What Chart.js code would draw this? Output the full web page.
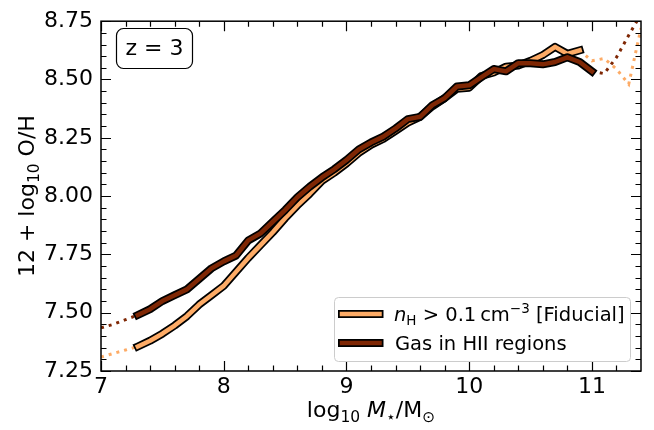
<!DOCTYPE html>
<html><head><meta charset="utf-8">
<script src="https://cdn.jsdelivr.net/npm/chart.js@4.4.1/dist/chart.umd.min.js"></script>
<style>html,body{margin:0;padding:0;background:#fff;}</style>
</head><body>
<canvas id="c" width="654" height="430"></canvas>
<script>
// ---- data ----
const fidX = [7.3,7.4,7.5,7.6,7.7,7.8,7.9,8.0,8.1,8.2,8.3,8.4,8.5,8.6,8.7,8.8,8.9,9.0,9.1,9.2,9.3,9.4,9.5,9.6,9.7,9.8,9.9,10.0,10.1,10.2,10.3,10.4,10.5,10.6,10.7,10.8,10.9];
const fidY = [7.355,7.38,7.41,7.445,7.485,7.535,7.575,7.615,7.675,7.735,7.79,7.845,7.905,7.96,8.01,8.065,8.10,8.14,8.185,8.22,8.245,8.28,8.315,8.34,8.385,8.42,8.46,8.465,8.515,8.53,8.555,8.56,8.58,8.605,8.64,8.61,8.625];
const hiiX = [7.3,7.4,7.5,7.6,7.7,7.8,7.9,8.0,8.1,8.2,8.3,8.4,8.5,8.6,8.7,8.8,8.9,9.0,9.1,9.2,9.3,9.4,9.5,9.6,9.7,9.8,9.9,10.0,10.1,10.2,10.3,10.4,10.5,10.6,10.7,10.8,10.9,11.0];
const hiiY = [7.49,7.515,7.55,7.575,7.60,7.645,7.69,7.72,7.745,7.81,7.84,7.89,7.94,7.995,8.04,8.08,8.115,8.155,8.20,8.23,8.255,8.29,8.33,8.34,8.39,8.42,8.47,8.475,8.51,8.545,8.535,8.57,8.57,8.565,8.575,8.595,8.575,8.535];
const fidLowX = [7.0,7.1,7.2,7.3];
const fidLowY = [7.31,7.325,7.34,7.355];
const fidHighX = [10.9,11.0,11.1,11.2,11.3,11.4];
const fidHighY = [8.625,8.58,8.59,8.545,8.48,8.72];
const hiiLowX = [7.0,7.1,7.2,7.3];
const hiiLowY = [7.435,7.45,7.47,7.49];
const hiiHighX = [11.0,11.1,11.2,11.3,11.4];
const hiiHighY = [8.535,8.525,8.595,8.69,8.78];

const xMajor = [7,8,9,10,11];
const xMinor = [7.2,7.4,7.6,7.8,8.2,8.4,8.6,8.8,9.2,9.4,9.6,9.8,10.2,10.4,10.6,10.8,11.2];
const yMajor = [7.25,7.5,7.75,8.0,8.25,8.5,8.75];
const yMinor = [7.30,7.35,7.40,7.45,7.55,7.60,7.65,7.70,7.80,7.85,7.90,7.95,8.05,8.10,8.15,8.20,8.30,8.35,8.40,8.45,8.55,8.60,8.65,8.70];

const labelFid = 'n_H > 0.1 cm^-3 [Fiducial]';
const labelHii = 'Gas in HII regions';
const redshiftLabel = 'z = 3';

const cLight = '#fdab66';
const cDark = '#7f2704';
const FONT = 'DejaVu Sans';

const pts = (xs, ys) => xs.map((x, i) => ({x: x, y: ys[i]}));

function solid(data, color, width, order, label) {
  return {type:'line', label: label, data: data, borderColor: color, borderWidth: width,
    pointRadius: 0, tension: 0, fill: false, borderCapStyle: 'square', borderJoinStyle: 'round',
    order: order, clip: 0};
}
function dotted(data, color, order) {
  return {type:'line', label: '', data: data, borderColor: color, borderWidth: 3,
    borderDash: [3, 5], borderCapStyle: 'butt', pointRadius: 0, tension: 0, fill: false,
    order: order, clip: 0};
}

function richText(ctx, segs, x, y, align) {
  let w = 0;
  segs.forEach(s => { ctx.font = s[1]; w += ctx.measureText(s[0]).width; });
  let cx = align === 'center' ? x - w / 2 : x;
  ctx.textAlign = 'left';
  ctx.textBaseline = 'alphabetic';
  segs.forEach(s => { ctx.font = s[1]; ctx.fillText(s[0], cx, y + (s[2] || 0)); cx += ctx.measureText(s[0]).width; });
}

const decor = {
  id: 'decor',
  afterDatasetsDraw(chart) {
    const {ctx, chartArea: a, scales: {x, y}} = chart;
    ctx.save();
    ctx.strokeStyle = '#000';
    ctx.lineWidth = 1.2;
    ctx.beginPath();
    const vt = (vals, len) => vals.forEach(v => {
      const px = Math.round(x.getPixelForValue(v)) + 0.5;
      ctx.moveTo(px, a.bottom); ctx.lineTo(px, a.bottom - len);
      ctx.moveTo(px, a.top); ctx.lineTo(px, a.top + len);
    });
    const ht = (vals, len) => vals.forEach(v => {
      const py = Math.round(y.getPixelForValue(v)) + 0.5;
      ctx.moveTo(a.left, py); ctx.lineTo(a.left + len, py);
      ctx.moveTo(a.right, py); ctx.lineTo(a.right - len, py);
    });
    vt(xMajor, 10); vt(xMinor, 5.5); ht(yMajor, 10); ht(yMinor, 5.5);
    ctx.stroke();
    ctx.lineWidth = 1.5;
    ctx.strokeRect(a.left, a.top, a.right - a.left, a.bottom - a.top);

    // legend
    ctx.fillStyle = 'rgba(255,255,255,0.85)';
    ctx.strokeStyle = '#cccccc';
    ctx.lineWidth = 1;
    ctx.beginPath(); ctx.roundRect(334.5, 297.5, 296, 64, 4); ctx.fill(); ctx.stroke();
    const sw = (yy, col) => {
      ctx.lineCap = 'square';
      ctx.strokeStyle = '#000'; ctx.lineWidth = 8;
      ctx.beginPath(); ctx.moveTo(342, yy); ctx.lineTo(379.5, yy); ctx.stroke();
      ctx.strokeStyle = col; ctx.lineWidth = 4.5;
      ctx.beginPath(); ctx.moveTo(342, yy); ctx.lineTo(379.5, yy); ctx.stroke();
    };
    sw(314, cLight); sw(343, cDark);
    ctx.fillStyle = '#000';
    const L = '19.5px "' + FONT + '"', Li = 'italic 19.5px "' + FONT + '"', Ls = '13.5px "' + FONT + '"';
    richText(ctx, [['n', Li, 0], ['H', Ls, 4], [' > 0.1\u2009cm', L, 0], ['\u22123', Ls, -8], [' [Fiducial]', L, 0]], 394, 321, 'left');
    richText(ctx, [[labelHii, L, 0]], 395, 350, 'left');

    // redshift box
    ctx.fillStyle = '#fff'; ctx.strokeStyle = '#000'; ctx.lineWidth = 1.2;
    ctx.beginPath(); ctx.roundRect(116.5, 28.5, 76, 40, 7); ctx.fill(); ctx.stroke();
    ctx.fillStyle = '#000';
    ctx.font = '22px "' + FONT + '"'; ctx.textAlign = 'center'; ctx.textBaseline = 'middle';
    ctx.fillText(redshiftLabel, 154.5, 49);

    // axis titles
    const T = '22px "' + FONT + '"', Ti = 'italic 22px "' + FONT + '"', Ts = '15.5px "' + FONT + '"';
    richText(ctx, [['log', T, 0], ['10', Ts, 5], [' ', T, 0], ['M', Ti, 0], ['\u22c6', Ts, 5], ['/M', T, 0], ['\u2299', Ts, 5]], (a.left + a.right) / 2, 417, 'center');
    ctx.save();
    ctx.translate(34, (a.top + a.bottom) / 2);
    ctx.rotate(-Math.PI / 2);
    richText(ctx, [['12 + log', T, 0], ['10', Ts, 5], [' O/H', T, 0]], 0, 0, 'center');
    ctx.restore();
    ctx.restore();
  }
};

new Chart(document.getElementById('c'), {
  type: 'line',
  data: {
    datasets: [
      dotted(pts(fidLowX, fidLowY), cLight, 10),
      dotted(pts(fidHighX, fidHighY), cLight, 10),
      dotted(pts(hiiLowX, hiiLowY), cDark, 9),
      dotted(pts(hiiHighX, hiiHighY), cDark, 9),
      solid(pts(fidX, fidY), '#000', 8, 8, ''),
      solid(pts(fidX, fidY), cLight, 4.5, 7, labelFid),
      solid(pts(hiiX, hiiY), '#000', 8, 6, ''),
      solid(pts(hiiX, hiiY), cDark, 4.5, 5, labelHii)
    ]
  },
  options: {
    responsive: false, animation: false, devicePixelRatio: 1,
    layout: {padding: {left: 0, right: 13, top: 15, bottom: 0}},
    plugins: {legend: {display: false}, tooltip: {enabled: false}},
    scales: {
      x: {type: 'linear', min: 7, max: 11.4,
        grid: {display: false, drawTicks: false}, border: {display: false},
        afterBuildTicks: s => { s.ticks = xMajor.map(v => ({value: v})); },
        afterFit: s => { s.height = 59; },
        ticks: {font: {family: FONT, size: 22}, color: '#000', padding: 3, maxRotation: 0, autoSkip: false,
          callback: v => String(v)}},
      y: {type: 'linear', min: 7.25, max: 8.75,
        grid: {display: false, drawTicks: false}, border: {display: false},
        afterBuildTicks: s => { s.ticks = yMajor.map(v => ({value: v})); },
        afterFit: s => { s.width = 101; },
        ticks: {font: {family: FONT, size: 22}, color: '#000', padding: 8, autoSkip: false,
          callback: v => Number(v).toFixed(2)}}
    }
  },
  plugins: [decor]
});
</script>
</body></html>
